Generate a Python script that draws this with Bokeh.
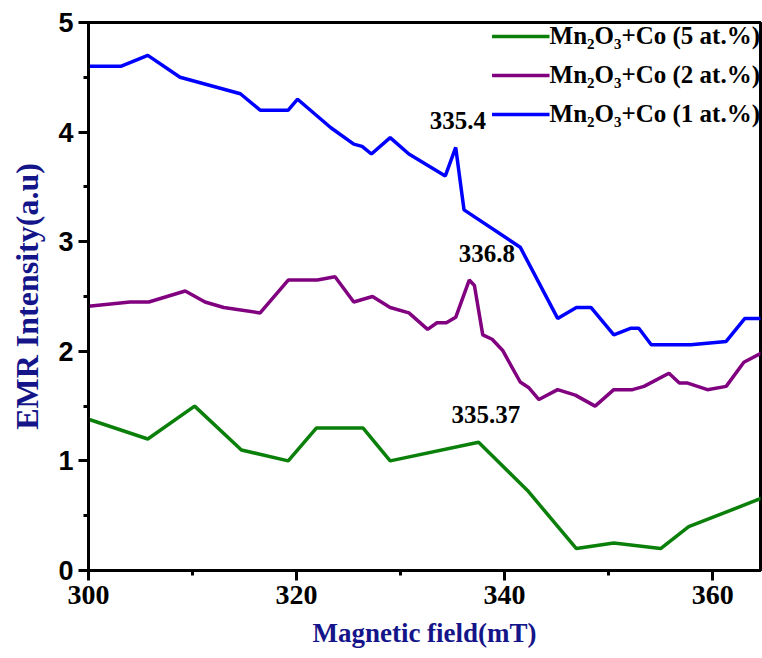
from bokeh.plotting import figure
from bokeh.models import Legend, LegendItem, SingleIntervalTicker, Range1d, ColumnDataSource
from bokeh.embed import file_html
from bokeh.resources import INLINE
from bokeh.core.properties import value

# Mn2O3 + Co (5 at.%)
field_5 = [300.0, 305.7, 310.2, 314.7, 319.2, 321.9, 326.4, 329.0, 337.5, 342.2, 346.9, 350.5, 355.0, 357.7, 365.0]
emr_5 = [1.38, 1.20, 1.50, 1.10, 1.00, 1.30, 1.30, 1.00, 1.17, 0.73, 0.20, 0.25, 0.20, 0.40, 0.67]

# Mn2O3 + Co (2 at.%)
field_2 = [300.0, 304.0, 305.8, 309.3, 311.2, 313.0, 316.5, 319.2, 322.0, 323.7, 325.5, 327.3, 329.0,
           330.8, 332.6, 333.5, 334.4, 335.3, 336.6, 337.1, 337.9, 338.8, 339.8, 341.5, 342.3, 343.3,
           345.1, 346.8, 348.7, 350.5, 352.3, 353.4, 355.8, 356.8, 357.6, 359.5, 361.3, 363.0, 365.0]
emr_2 = [2.41, 2.45, 2.45, 2.55, 2.45, 2.40, 2.35, 2.65, 2.65, 2.68, 2.45, 2.50, 2.40,
         2.35, 2.20, 2.26, 2.26, 2.31, 2.65, 2.60, 2.15, 2.11, 2.01, 1.72, 1.67, 1.56,
         1.65, 1.60, 1.50, 1.65, 1.65, 1.68, 1.80, 1.71, 1.71, 1.65, 1.68, 1.90, 2.00]

# Mn2O3 + Co (1 at.%)
field_1 = [300.0, 303.1, 305.7, 308.8, 314.6, 316.5, 319.2, 320.1, 323.3, 325.5, 326.3, 327.2, 329.0,
           330.8, 334.3, 335.3, 336.1, 341.5, 345.1, 346.9, 348.3, 350.5, 352.1, 352.9, 354.1,
           357.9, 361.3, 363.1, 365.0]
emr_1 = [4.60, 4.60, 4.70, 4.50, 4.35, 4.20, 4.20, 4.30, 4.04, 3.89, 3.87, 3.80, 3.95,
         3.80, 3.60, 3.86, 3.29, 2.95, 2.30, 2.40, 2.40, 2.15, 2.21, 2.21, 2.06,
         2.06, 2.09, 2.30, 2.30]

series_labels = ["Mn\u2082O\u2083+Co (5 at.%)", "Mn\u2082O\u2083+Co (2 at.%)", "Mn\u2082O\u2083+Co (1 at.%)"]
series_colors = ["#0a800a", "#800080", "#0000ff"]

# peak annotations
ann_x = [335.5, 338.3, 338.2]
ann_y = [4.11, 2.89, 1.42]
ann_text = ["335.4", "336.8", "335.37"]

x_ticks_interval = 20
y_ticks_interval = 1

navy = "#15158a"

p = figure(width=762, height=658, output_backend="svg", toolbar_location=None,
           x_range=Range1d(300, 364.6), y_range=Range1d(0, 5),
           min_border_left=88, min_border_right=2, min_border_top=22, min_border_bottom=88)

p.background_fill_color = "white"
p.border_fill_color = "white"
p.outline_line_color = "black"
p.outline_line_width = 3
p.xgrid.visible = False
p.ygrid.visible = False

r5 = p.line(field_5, emr_5, line_color=series_colors[0], line_width=3.5)
r2 = p.line(field_2, emr_2, line_color=series_colors[1], line_width=3.5)
r1 = p.line(field_1, emr_1, line_color=series_colors[2], line_width=3.5)

src = ColumnDataSource(dict(x=ann_x, y=ann_y, t=ann_text))
p.text(x="x", y="y", text="t", source=src, text_font=value("Liberation Serif"),
       text_font_style="bold", text_font_size="25px", text_color="black",
       text_align="center", text_baseline="middle")

p.xaxis.ticker = SingleIntervalTicker(interval=x_ticks_interval, num_minor_ticks=2)
p.yaxis.ticker = SingleIntervalTicker(interval=y_ticks_interval, num_minor_ticks=2)

for ax in (p.xaxis[0], p.yaxis[0]):
    ax.axis_line_width = 3
    ax.axis_line_color = "black"
    ax.major_tick_line_width = 3
    ax.minor_tick_line_width = 3
    ax.major_tick_in = 0
    ax.major_tick_out = 10
    ax.minor_tick_in = 0
    ax.minor_tick_out = 5
    ax.major_label_text_color = "black"
    ax.major_label_text_font_style = "bold"
    ax.axis_label_text_color = navy
    ax.axis_label_text_font = "Liberation Serif"
    ax.axis_label_text_font_style = "bold"

xax = p.xaxis[0]
xax.axis_label = "Magnetic field(mT)"
xax.axis_label_text_font_size = "27px"
xax.major_label_text_font = "Liberation Serif"
xax.major_label_text_font_size = "28px"
xax.major_label_standoff = 5
xax.axis_label_standoff = 11

yax = p.yaxis[0]
yax.axis_label = "EMR Intensity(a.u)"
yax.axis_label_text_font_size = "32px"
yax.major_label_text_font = "Liberation Sans"
yax.major_label_text_font_size = "27px"
yax.major_label_standoff = 5
yax.axis_label_standoff = 10

legend = Legend(items=[LegendItem(label=series_labels[0], renderers=[r5]),
                       LegendItem(label=series_labels[1], renderers=[r2]),
                       LegendItem(label=series_labels[2], renderers=[r1])],
                location="top_right", margin=0, padding=0, spacing=11,
                glyph_width=58, glyph_height=24, label_standoff=0,
                label_text_font="Liberation Serif", label_text_font_style="bold",
                label_text_font_size="25px", label_text_color="black",
                background_fill_alpha=0, border_line_alpha=0)
p.add_layout(legend)

open("out.html", "w").write(file_html(p, INLINE))
